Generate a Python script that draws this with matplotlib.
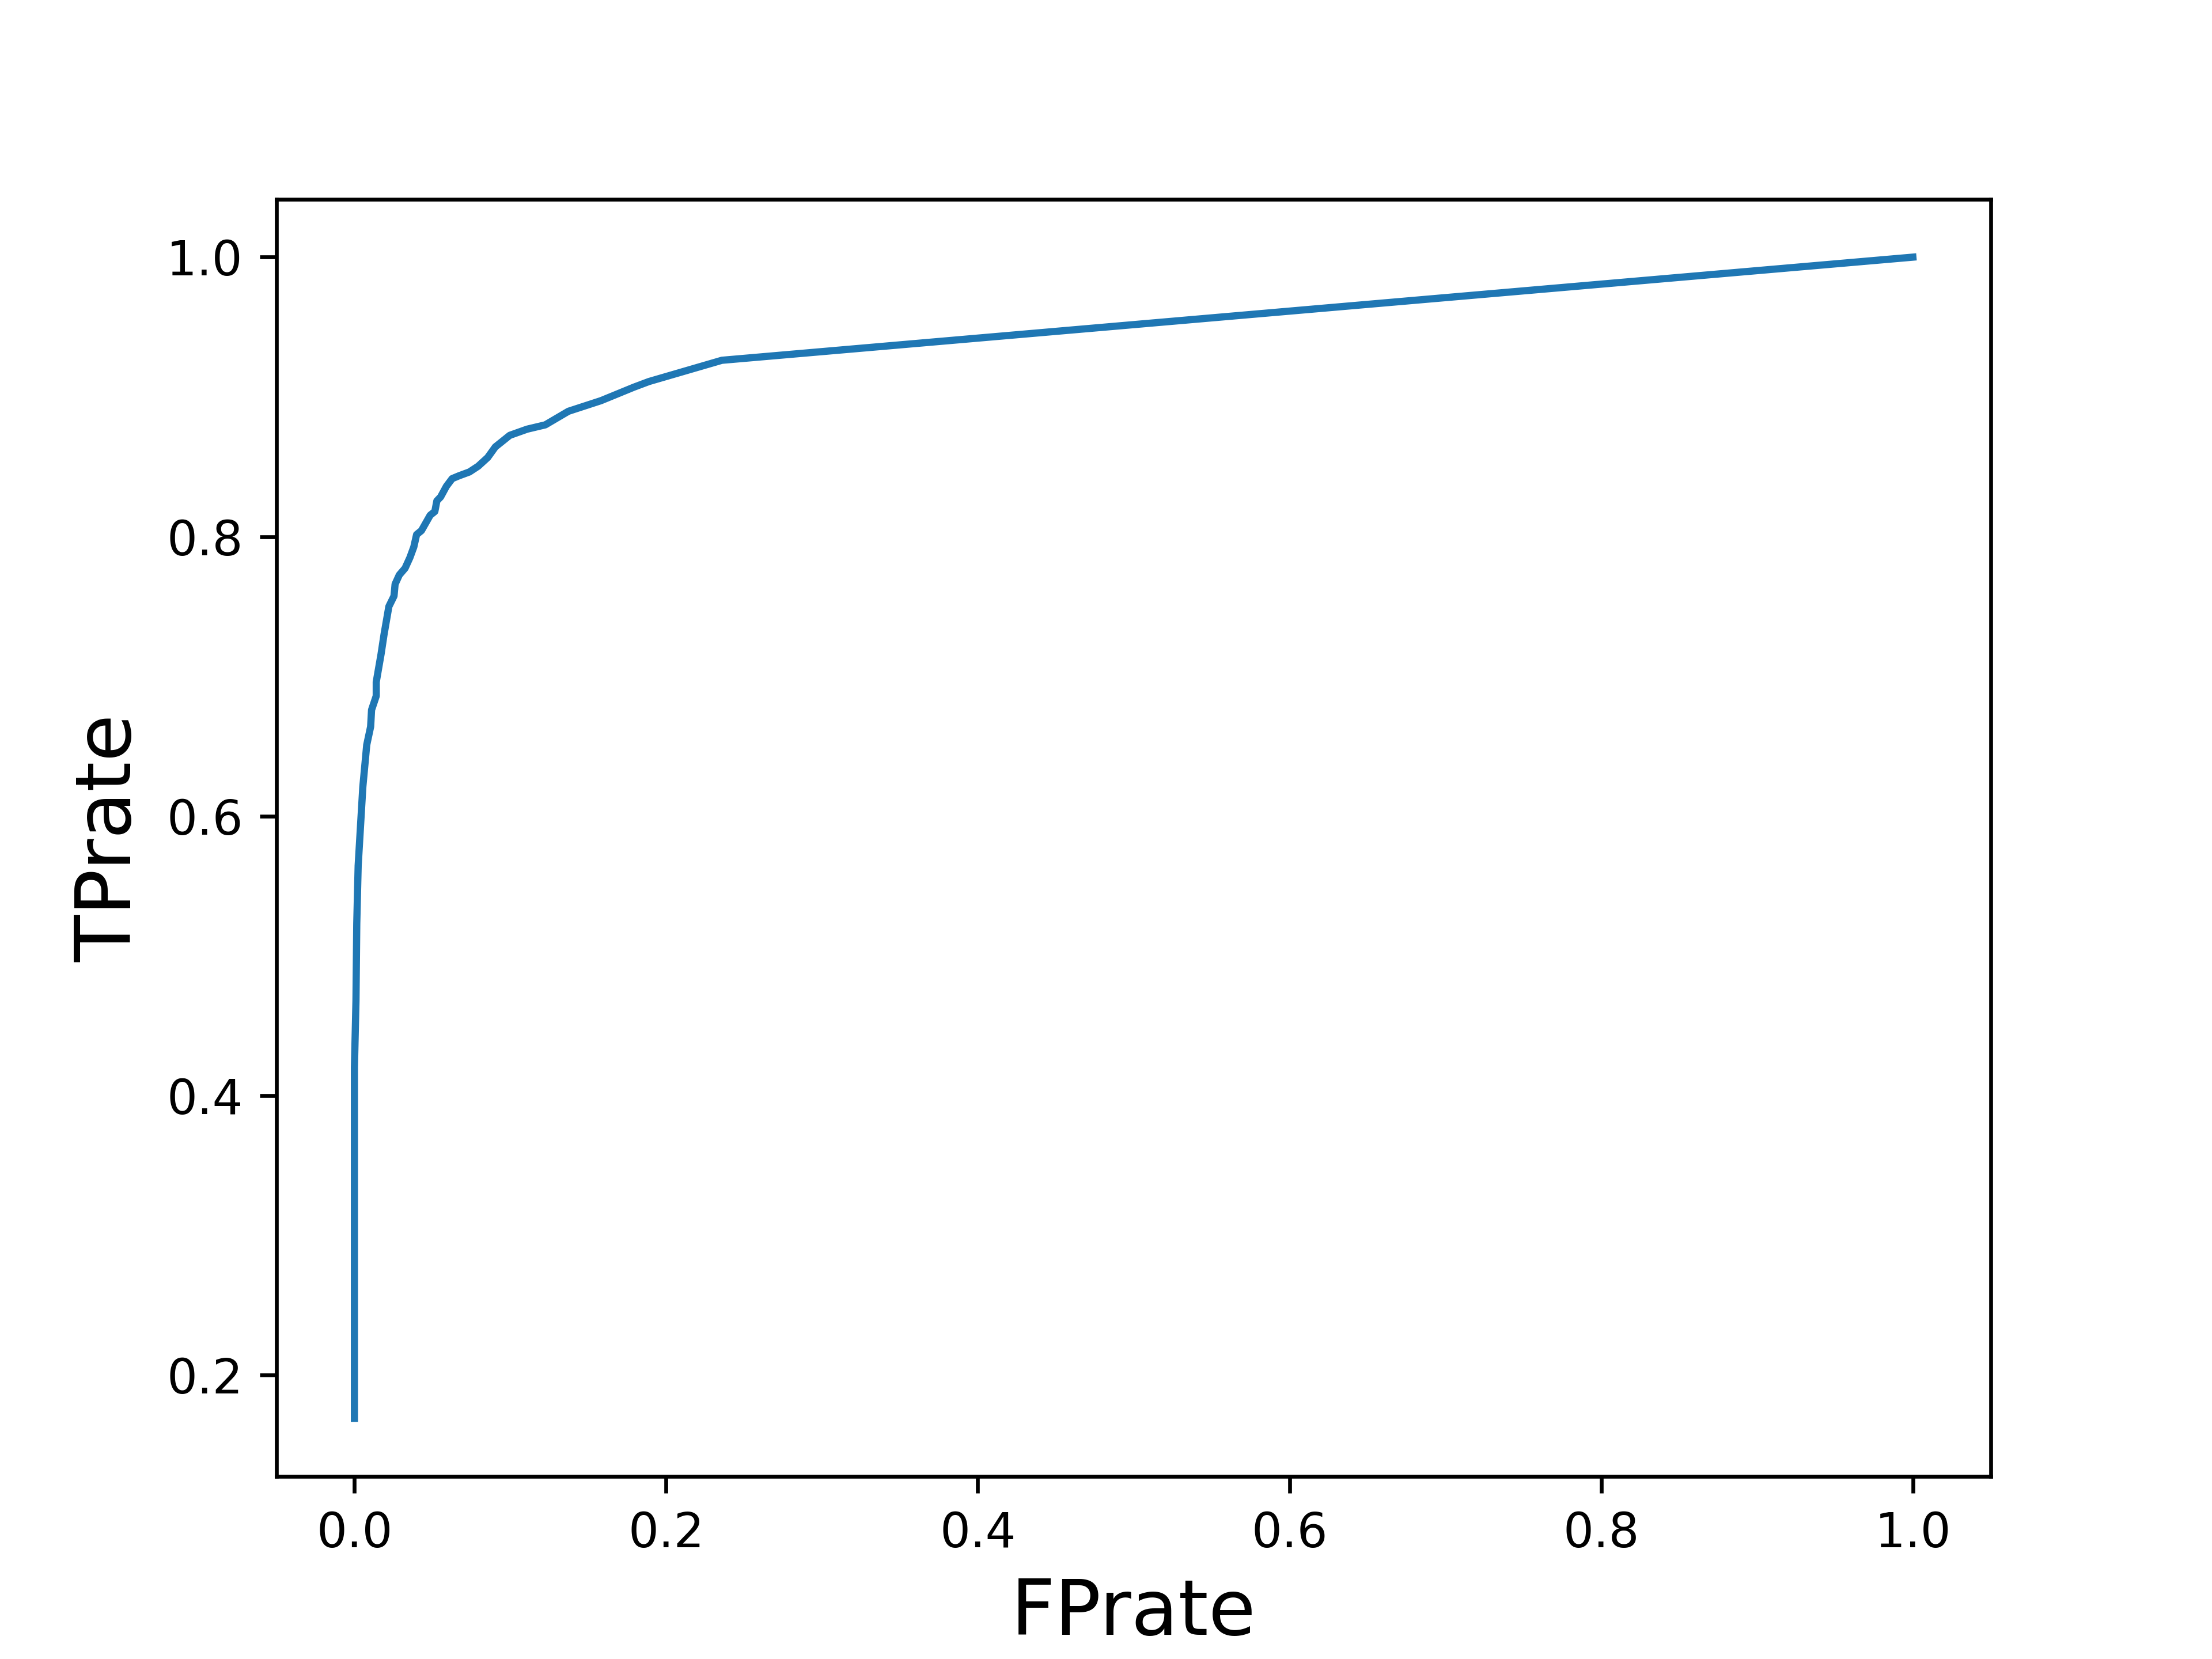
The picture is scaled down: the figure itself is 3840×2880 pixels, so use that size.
import matplotlib
matplotlib.use("Agg")
import matplotlib.pyplot as plt

fpr = [0.0, 0.0, 0.001, 0.0015, 0.0024, 0.0046, 0.0054, 0.0079, 0.0104, 0.011,
       0.014, 0.014, 0.0171, 0.019, 0.0221, 0.0254, 0.0261, 0.0288, 0.0325,
       0.0356, 0.0381, 0.0399, 0.043, 0.0486, 0.0516, 0.0529, 0.0553, 0.059,
       0.0627, 0.067, 0.0738, 0.0794, 0.0855, 0.0904, 0.0997, 0.1108, 0.1225,
       0.1373, 0.1582, 0.1792, 0.189, 0.2358, 1.0]
tpr = [0.169, 0.42, 0.468, 0.523, 0.5645, 0.606, 0.621, 0.651, 0.664, 0.676,
       0.686, 0.696, 0.716, 0.730, 0.750, 0.7575, 0.766, 0.7726, 0.7774,
       0.785, 0.7926, 0.8015, 0.8043, 0.8153, 0.818, 0.8256, 0.8284, 0.836,
       0.8415, 0.8435, 0.8463, 0.8504, 0.8566, 0.8642, 0.8725, 0.8769, 0.88,
       0.8897, 0.8973, 0.9069, 0.911, 0.9262, 1.0]

fig, ax = plt.subplots(figsize=(6.4, 4.8), dpi=600)
ax.plot(fpr, tpr, color="#1f77b4", linewidth=1.5)
ax.set_xlabel("FPrate", fontsize=16)
ax.set_ylabel("TPrate", fontsize=16)
fig.savefig("out.png", dpi=600)
